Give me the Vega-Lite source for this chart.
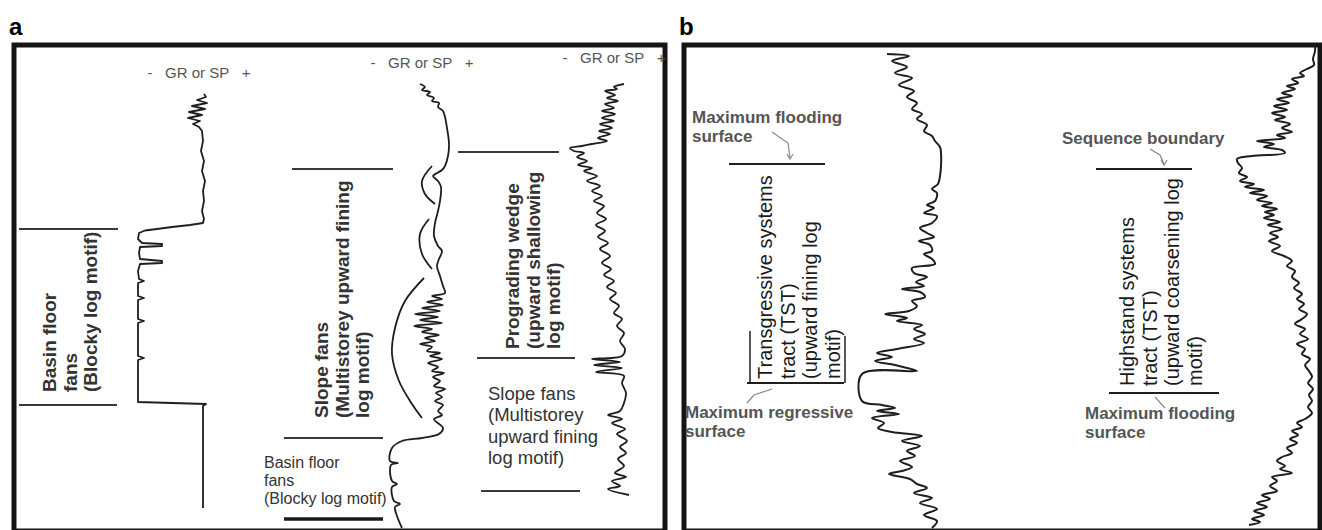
{
  "$schema": "https://vega.github.io/schema/vega-lite/v6.json",
  "autosize": {"type": "pad"},
  "padding": {"left": 6, "top": 13, "right": 0, "bottom": 0},
  "background": "white",
  "spacing": 19,
  "bounds": "flush",
  "config": {"view": {"stroke": "#151515", "strokeWidth": 5}},
  "datasets": {
    "logsA": [
      {"s":"a1","x":202,"y":93},{"s":"a1","x":204,"y":96},{"s":"a1","x":195,"y":99},{"s":"a1","x":205,"y":102},{"s":"a1","x":190,"y":105},{"s":"a1","x":203,"y":108},{"s":"a1","x":187,"y":111},{"s":"a1","x":200,"y":114},{"s":"a1","x":186,"y":117},{"s":"a1","x":198,"y":120},{"s":"a1","x":191,"y":123},{"s":"a1","x":197,"y":126},{"s":"a1","x":200,"y":130},{"s":"a1","x":201,"y":140},{"s":"a1","x":199,"y":150},{"s":"a1","x":202,"y":160},{"s":"a1","x":200,"y":170},{"s":"a1","x":203,"y":180},{"s":"a1","x":201,"y":190},{"s":"a1","x":202,"y":200},{"s":"a1","x":200,"y":210},{"s":"a1","x":202,"y":218},{"s":"a1","x":201,"y":222},{"s":"a1","x":188,"y":224},{"s":"a1","x":170,"y":226},{"s":"a1","x":155,"y":228},{"s":"a1","x":143,"y":229.5},{"s":"a1","x":137,"y":232},{"s":"a1","x":136,"y":238},{"s":"a1","x":140,"y":242},{"s":"a1","x":160,"y":243},{"s":"a1","x":160,"y":245},{"s":"a1","x":138,"y":246},{"s":"a1","x":137,"y":252},{"s":"a1","x":138,"y":258},{"s":"a1","x":160,"y":260},{"s":"a1","x":160,"y":262},{"s":"a1","x":138,"y":263},{"s":"a1","x":136,"y":270},{"s":"a1","x":137,"y":278},{"s":"a1","x":142,"y":280},{"s":"a1","x":136,"y":282},{"s":"a1","x":136,"y":295},{"s":"a1","x":142,"y":297},{"s":"a1","x":136,"y":299},{"s":"a1","x":136,"y":318},{"s":"a1","x":142,"y":320},{"s":"a1","x":136,"y":322},{"s":"a1","x":136,"y":355},{"s":"a1","x":142,"y":357},{"s":"a1","x":136,"y":359},{"s":"a1","x":136,"y":401},{"s":"a1","x":170,"y":402},{"s":"a1","x":204,"y":403},{"s":"a1","x":201,"y":405},{"s":"a1","x":201,"y":507},
      {"s":"a2","x":418,"y":83},{"s":"a2","x":423,"y":86},{"s":"a2","x":420,"y":89},{"s":"a2","x":428,"y":91},{"s":"a2","x":425,"y":94},{"s":"a2","x":432,"y":97},{"s":"a2","x":430,"y":100},{"s":"a2","x":437,"y":102},{"s":"a2","x":436,"y":106},{"s":"a2","x":441,"y":110},{"s":"a2","x":445,"y":127},{"s":"a2","x":447,"y":143},{"s":"a2","x":446,"y":155},{"s":"a2","x":443,"y":165},{"s":"a2","x":440,"y":169},{"s":"a2","x":435,"y":172},{"s":"a2","x":431,"y":175},{"s":"a2","x":436,"y":180},{"s":"a2","x":439,"y":186},{"s":"a2","x":438,"y":200},{"s":"a2","x":436,"y":210},{"s":"a2","x":433,"y":222},{"s":"a2","x":432,"y":235},{"s":"a2","x":436,"y":245},{"s":"a2","x":440,"y":250},{"s":"a2","x":437,"y":258},{"s":"a2","x":435,"y":265},{"s":"a2","x":438,"y":275},{"s":"a2","x":441,"y":285},{"s":"a2","x":443,"y":292},{"s":"a2","x":430,"y":295},{"s":"a2","x":440,"y":298},{"s":"a2","x":425,"y":301},{"s":"a2","x":441,"y":304},{"s":"a2","x":420,"y":307},{"s":"a2","x":438,"y":310},{"s":"a2","x":413,"y":313},{"s":"a2","x":436,"y":316},{"s":"a2","x":418,"y":319},{"s":"a2","x":440,"y":322},{"s":"a2","x":412,"y":325},{"s":"a2","x":430,"y":328},{"s":"a2","x":420,"y":331},{"s":"a2","x":437,"y":334},{"s":"a2","x":423,"y":337},{"s":"a2","x":433,"y":340},{"s":"a2","x":418,"y":343},{"s":"a2","x":430,"y":346},{"s":"a2","x":425,"y":350},{"s":"a2","x":438,"y":352},{"s":"a2","x":428,"y":355},{"s":"a2","x":440,"y":358},{"s":"a2","x":426,"y":362},{"s":"a2","x":436,"y":366},{"s":"a2","x":430,"y":370},{"s":"a2","x":442,"y":372},{"s":"a2","x":431,"y":376},{"s":"a2","x":438,"y":380},{"s":"a2","x":432,"y":385},{"s":"a2","x":443,"y":388},{"s":"a2","x":434,"y":392},{"s":"a2","x":440,"y":396},{"s":"a2","x":433,"y":400},{"s":"a2","x":441,"y":404},{"s":"a2","x":436,"y":410},{"s":"a2","x":440,"y":414},{"s":"a2","x":432,"y":418},{"s":"a2","x":441,"y":427},{"s":"a2","x":437,"y":433},{"s":"a2","x":420,"y":437},{"s":"a2","x":400,"y":440},{"s":"a2","x":390,"y":447},{"s":"a2","x":388,"y":460},{"s":"a2","x":396,"y":462},{"s":"a2","x":389,"y":464},{"s":"a2","x":390,"y":480},{"s":"a2","x":395,"y":483},{"s":"a2","x":390,"y":486},{"s":"a2","x":392,"y":500},{"s":"a2","x":398,"y":503},{"s":"a2","x":393,"y":506},{"s":"a2","x":395,"y":515},{"s":"a2","x":400,"y":527},
      {"s":"arc1","x":430,"y":165},{"s":"arc1","x":420,"y":180},{"s":"arc1","x":423,"y":193},{"s":"arc1","x":433,"y":203},
      {"s":"arc2","x":427,"y":218},{"s":"arc2","x":418,"y":233},{"s":"arc2","x":420,"y":253},{"s":"arc2","x":430,"y":268},
      {"s":"arc3","x":422,"y":277},{"s":"arc3","x":403,"y":300},{"s":"arc3","x":393,"y":327},{"s":"arc3","x":390,"y":353},{"s":"arc3","x":397,"y":380},{"s":"arc3","x":410,"y":403},{"s":"arc3","x":420,"y":417},
      {"s":"a3","x":622,"y":83},{"s":"a3","x":612,"y":86},{"s":"a3","x":615,"y":88},{"s":"a3","x":603,"y":90},{"s":"a3","x":613,"y":94},{"s":"a3","x":605,"y":97},{"s":"a3","x":616,"y":100},{"s":"a3","x":603,"y":103},{"s":"a3","x":612,"y":107},{"s":"a3","x":600,"y":110},{"s":"a3","x":613,"y":113},{"s":"a3","x":600,"y":117},{"s":"a3","x":612,"y":120},{"s":"a3","x":598,"y":123},{"s":"a3","x":610,"y":127},{"s":"a3","x":597,"y":130},{"s":"a3","x":608,"y":133},{"s":"a3","x":596,"y":137},{"s":"a3","x":605,"y":140},{"s":"a3","x":590,"y":143},{"s":"a3","x":580,"y":145},{"s":"a3","x":568,"y":147},{"s":"a3","x":572,"y":150},{"s":"a3","x":582,"y":152},{"s":"a3","x":575,"y":156},{"s":"a3","x":585,"y":160},{"s":"a3","x":576,"y":164},{"s":"a3","x":590,"y":167},{"s":"a3","x":582,"y":170},{"s":"a3","x":595,"y":175},{"s":"a3","x":585,"y":180},{"s":"a3","x":598,"y":185},{"s":"a3","x":590,"y":190},{"s":"a3","x":600,"y":195},{"s":"a3","x":592,"y":200},{"s":"a3","x":602,"y":205},{"s":"a3","x":595,"y":212},{"s":"a3","x":604,"y":218},{"s":"a3","x":594,"y":224},{"s":"a3","x":603,"y":230},{"s":"a3","x":596,"y":236},{"s":"a3","x":606,"y":242},{"s":"a3","x":598,"y":248},{"s":"a3","x":608,"y":255},{"s":"a3","x":600,"y":262},{"s":"a3","x":609,"y":268},{"s":"a3","x":602,"y":274},{"s":"a3","x":612,"y":280},{"s":"a3","x":605,"y":286},{"s":"a3","x":614,"y":292},{"s":"a3","x":608,"y":298},{"s":"a3","x":617,"y":305},{"s":"a3","x":612,"y":312},{"s":"a3","x":620,"y":318},{"s":"a3","x":615,"y":325},{"s":"a3","x":622,"y":332},{"s":"a3","x":618,"y":340},{"s":"a3","x":623,"y":348},{"s":"a3","x":620,"y":355},{"s":"a3","x":590,"y":358},{"s":"a3","x":618,"y":361},{"s":"a3","x":592,"y":364},{"s":"a3","x":620,"y":367},{"s":"a3","x":594,"y":371},{"s":"a3","x":622,"y":375},{"s":"a3","x":620,"y":382},{"s":"a3","x":624,"y":392},{"s":"a3","x":622,"y":402},{"s":"a3","x":618,"y":410},{"s":"a3","x":606,"y":414},{"s":"a3","x":620,"y":418},{"s":"a3","x":610,"y":422},{"s":"a3","x":623,"y":428},{"s":"a3","x":615,"y":433},{"s":"a3","x":625,"y":440},{"s":"a3","x":618,"y":446},{"s":"a3","x":624,"y":452},{"s":"a3","x":616,"y":458},{"s":"a3","x":622,"y":465},{"s":"a3","x":613,"y":472},{"s":"a3","x":624,"y":476},{"s":"a3","x":610,"y":480},{"s":"a3","x":618,"y":485},{"s":"a3","x":606,"y":488},{"s":"a3","x":627,"y":494}
    ],
    "rulesA": [
      {"x":17,"x2":116,"y":228,"k":"n"},
      {"x":17,"x2":115,"y":404,"k":"n"},
      {"x":290,"x2":391,"y":168,"k":"n"},
      {"x":282,"x2":381,"y":437,"k":"n"},
      {"x":456,"x2":557,"y":151,"k":"n"},
      {"x":475,"x2":573,"y":357,"k":"n"},
      {"x":479,"x2":578,"y":490,"k":"n"},
      {"x":282,"x2":381,"y":518,"k":"b"}
    ],
    "textA": [
      {"g":"p","t":"a","x":7,"y":15},
      {"g":"gr","t":"-\u00a0\u00a0\u00a0GR or SP\u00a0\u00a0\u00a0+","x":197,"y":72},
      {"g":"gr","t":"-\u00a0\u00a0\u00a0GR or SP\u00a0\u00a0\u00a0+","x":420,"y":62},
      {"g":"gr","t":"-\u00a0\u00a0\u00a0GR or SP\u00a0\u00a0\u00a0+","x":612,"y":57},
      {"g":"rot","t":"Basin floor\nfans\n(Blocky log motif)","x":48,"y":391},
      {"g":"rot","t":"Slope fans\n(Multistorey upward fining\nlog motif)","x":320,"y":417},
      {"g":"rot","t":"Prograding wedge\n(upward shallowing\nlog motif)","x":511,"y":348},
      {"g":"hs","t":"Basin floor\nfans\n(Blocky log motif)","x":262,"y":462},
      {"g":"hl","t":"Slope fans\n(Multistorey\nupward fining\nlog motif)","x":486,"y":393}
    ],
    "logsB": [
      {"s":"b1","x":885,"y":53},{"s":"b1","x":907,"y":55},{"s":"b1","x":890,"y":60},{"s":"b1","x":905,"y":66},{"s":"b1","x":893,"y":72},{"s":"b1","x":910,"y":77},{"s":"b1","x":897,"y":84},{"s":"b1","x":912,"y":90},{"s":"b1","x":905,"y":96},{"s":"b1","x":915,"y":102},{"s":"b1","x":910,"y":108},{"s":"b1","x":920,"y":113},{"s":"b1","x":915,"y":118},{"s":"b1","x":925,"y":124},{"s":"b1","x":922,"y":130},{"s":"b1","x":930,"y":135},{"s":"b1","x":933,"y":140},{"s":"b1","x":938,"y":146},{"s":"b1","x":939,"y":152},{"s":"b1","x":939,"y":165},{"s":"b1","x":938,"y":175},{"s":"b1","x":936,"y":183},{"s":"b1","x":930,"y":188},{"s":"b1","x":935,"y":192},{"s":"b1","x":933,"y":200},{"s":"b1","x":925,"y":204},{"s":"b1","x":932,"y":207},{"s":"b1","x":922,"y":212},{"s":"b1","x":935,"y":215},{"s":"b1","x":930,"y":222},{"s":"b1","x":918,"y":227},{"s":"b1","x":925,"y":232},{"s":"b1","x":932,"y":236},{"s":"b1","x":917,"y":240},{"s":"b1","x":928,"y":244},{"s":"b1","x":930,"y":250},{"s":"b1","x":922,"y":253},{"s":"b1","x":930,"y":258},{"s":"b1","x":933,"y":263},{"s":"b1","x":910,"y":267},{"s":"b1","x":912,"y":272},{"s":"b1","x":925,"y":276},{"s":"b1","x":914,"y":281},{"s":"b1","x":922,"y":285},{"s":"b1","x":900,"y":288},{"s":"b1","x":918,"y":291},{"s":"b1","x":923,"y":296},{"s":"b1","x":910,"y":300},{"s":"b1","x":915,"y":305},{"s":"b1","x":907,"y":310},{"s":"b1","x":883,"y":313},{"s":"b1","x":905,"y":317},{"s":"b1","x":895,"y":320},{"s":"b1","x":920,"y":324},{"s":"b1","x":912,"y":328},{"s":"b1","x":923,"y":333},{"s":"b1","x":912,"y":338},{"s":"b1","x":922,"y":342},{"s":"b1","x":895,"y":348},{"s":"b1","x":875,"y":352},{"s":"b1","x":890,"y":356},{"s":"b1","x":873,"y":360},{"s":"b1","x":893,"y":364},{"s":"b1","x":905,"y":367},{"s":"b1","x":915,"y":370},{"s":"b1","x":860,"y":373},{"s":"b1","x":860,"y":400},{"s":"b1","x":880,"y":404},{"s":"b1","x":893,"y":407},{"s":"b1","x":875,"y":410},{"s":"b1","x":897,"y":413},{"s":"b1","x":870,"y":417},{"s":"b1","x":882,"y":422},{"s":"b1","x":876,"y":427},{"s":"b1","x":890,"y":431},{"s":"b1","x":920,"y":435},{"s":"b1","x":900,"y":440},{"s":"b1","x":918,"y":445},{"s":"b1","x":905,"y":450},{"s":"b1","x":913,"y":455},{"s":"b1","x":898,"y":460},{"s":"b1","x":910,"y":466},{"s":"b1","x":900,"y":470},{"s":"b1","x":887,"y":473},{"s":"b1","x":908,"y":478},{"s":"b1","x":915,"y":483},{"s":"b1","x":925,"y":487},{"s":"b1","x":912,"y":492},{"s":"b1","x":930,"y":497},{"s":"b1","x":918,"y":502},{"s":"b1","x":935,"y":508},{"s":"b1","x":922,"y":514},{"s":"b1","x":935,"y":520},{"s":"b1","x":930,"y":527},
      {"s":"b2","x":1313,"y":43},{"s":"b2","x":1313,"y":50},{"s":"b2","x":1311,"y":58},{"s":"b2","x":1312,"y":64},{"s":"b2","x":1305,"y":68},{"s":"b2","x":1298,"y":72},{"s":"b2","x":1302,"y":75},{"s":"b2","x":1290,"y":78},{"s":"b2","x":1296,"y":82},{"s":"b2","x":1285,"y":85},{"s":"b2","x":1293,"y":88},{"s":"b2","x":1280,"y":92},{"s":"b2","x":1290,"y":95},{"s":"b2","x":1275,"y":98},{"s":"b2","x":1287,"y":102},{"s":"b2","x":1272,"y":105},{"s":"b2","x":1285,"y":109},{"s":"b2","x":1270,"y":112},{"s":"b2","x":1283,"y":116},{"s":"b2","x":1273,"y":119},{"s":"b2","x":1288,"y":123},{"s":"b2","x":1280,"y":127},{"s":"b2","x":1290,"y":131},{"s":"b2","x":1275,"y":134},{"s":"b2","x":1283,"y":137},{"s":"b2","x":1255,"y":140},{"s":"b2","x":1272,"y":143},{"s":"b2","x":1262,"y":146},{"s":"b2","x":1280,"y":149},{"s":"b2","x":1283,"y":152},{"s":"b2","x":1250,"y":155},{"s":"b2","x":1235,"y":158},{"s":"b2","x":1236,"y":162},{"s":"b2","x":1240,"y":167},{"s":"b2","x":1237,"y":172},{"s":"b2","x":1245,"y":176},{"s":"b2","x":1238,"y":180},{"s":"b2","x":1252,"y":183},{"s":"b2","x":1243,"y":186},{"s":"b2","x":1262,"y":189},{"s":"b2","x":1248,"y":192},{"s":"b2","x":1265,"y":195},{"s":"b2","x":1255,"y":199},{"s":"b2","x":1270,"y":202},{"s":"b2","x":1260,"y":205},{"s":"b2","x":1275,"y":208},{"s":"b2","x":1263,"y":211},{"s":"b2","x":1272,"y":214},{"s":"b2","x":1262,"y":217},{"s":"b2","x":1278,"y":221},{"s":"b2","x":1266,"y":224},{"s":"b2","x":1280,"y":228},{"s":"b2","x":1268,"y":232},{"s":"b2","x":1276,"y":236},{"s":"b2","x":1267,"y":240},{"s":"b2","x":1278,"y":245},{"s":"b2","x":1270,"y":250},{"s":"b2","x":1282,"y":255},{"s":"b2","x":1290,"y":260},{"s":"b2","x":1285,"y":265},{"s":"b2","x":1293,"y":270},{"s":"b2","x":1290,"y":276},{"s":"b2","x":1297,"y":282},{"s":"b2","x":1292,"y":287},{"s":"b2","x":1300,"y":293},{"s":"b2","x":1295,"y":298},{"s":"b2","x":1302,"y":303},{"s":"b2","x":1297,"y":308},{"s":"b2","x":1305,"y":313},{"s":"b2","x":1300,"y":318},{"s":"b2","x":1293,"y":323},{"s":"b2","x":1303,"y":328},{"s":"b2","x":1298,"y":333},{"s":"b2","x":1306,"y":338},{"s":"b2","x":1295,"y":343},{"s":"b2","x":1303,"y":348},{"s":"b2","x":1300,"y":353},{"s":"b2","x":1308,"y":358},{"s":"b2","x":1303,"y":364},{"s":"b2","x":1307,"y":370},{"s":"b2","x":1310,"y":376},{"s":"b2","x":1306,"y":382},{"s":"b2","x":1311,"y":388},{"s":"b2","x":1307,"y":394},{"s":"b2","x":1310,"y":400},{"s":"b2","x":1306,"y":406},{"s":"b2","x":1310,"y":412},{"s":"b2","x":1303,"y":418},{"s":"b2","x":1295,"y":422},{"s":"b2","x":1300,"y":426},{"s":"b2","x":1290,"y":430},{"s":"b2","x":1296,"y":434},{"s":"b2","x":1288,"y":438},{"s":"b2","x":1295,"y":442},{"s":"b2","x":1285,"y":447},{"s":"b2","x":1290,"y":452},{"s":"b2","x":1280,"y":456},{"s":"b2","x":1275,"y":460},{"s":"b2","x":1283,"y":465},{"s":"b2","x":1278,"y":468},{"s":"b2","x":1290,"y":472},{"s":"b2","x":1270,"y":476},{"s":"b2","x":1275,"y":480},{"s":"b2","x":1268,"y":485},{"s":"b2","x":1275,"y":490},{"s":"b2","x":1260,"y":494},{"s":"b2","x":1268,"y":498},{"s":"b2","x":1255,"y":502},{"s":"b2","x":1265,"y":506},{"s":"b2","x":1252,"y":510},{"s":"b2","x":1262,"y":514},{"s":"b2","x":1250,"y":518},{"s":"b2","x":1258,"y":521},{"s":"b2","x":1247,"y":524}
    ],
    "rulesB": [
      {"x":727,"x2":823,"y":163},
      {"x":745,"x2":842,"y":382},
      {"x":1094,"x2":1190,"y":168},
      {"x":1107,"x2":1217,"y":392}
    ],
    "vbarsB": [
      {"x":748,"y":330,"y2":382},
      {"x":843,"y":335,"y2":382}
    ],
    "arrowsB": [
      {"s":"m1","i":0,"x":770,"y":131},{"s":"m1","i":1,"x":786,"y":142},{"s":"m1","i":2,"x":788,"y":157},
      {"s":"h1","i":0,"x":785,"y":153},{"s":"h1","i":1,"x":788,"y":158},{"s":"h1","i":2,"x":791,"y":153},
      {"s":"m2","i":0,"x":770,"y":388},{"s":"m2","i":1,"x":752,"y":394},{"s":"m2","i":2,"x":745,"y":402},
      {"s":"m3","i":0,"x":1148,"y":148},{"s":"m3","i":1,"x":1158,"y":154},{"s":"m3","i":2,"x":1162,"y":163},
      {"s":"h3","i":0,"x":1159,"y":159},{"s":"h3","i":1,"x":1162,"y":164},{"s":"h3","i":2,"x":1165,"y":159},
      {"s":"m4","i":0,"x":1153,"y":396},{"s":"m4","i":1,"x":1163,"y":407}
    ],
    "textB": [
      {"g":"p","t":"b","x":677,"y":15},
      {"g":"gb","t":"Maximum flooding\nsurface","x":690,"y":117},
      {"g":"gb","t":"Maximum regressive\nsurface","x":683,"y":412},
      {"g":"gb","t":"Sequence boundary","x":1060,"y":138},
      {"g":"gb","t":"Maximum flooding\nsurface","x":1083,"y":413},
      {"g":"rot","t":"Transgressive systems\ntract (TST)\n(upward fining log\nmotif)","x":764,"y":378},
      {"g":"rot","t":"Highstand systems\ntract (TST)\n(upward coarsening log\nmotif)","x":1126,"y":385}
    ]
  },
  "hconcat": [
    {
      "width": 651,
      "height": 486,
      "encoding": {
        "x": {"field": "x", "type": "quantitative", "scale": {"domain": [12, 663], "nice": false, "zero": false}, "axis": null},
        "y": {"field": "y", "type": "quantitative", "scale": {"domain": [44, 530], "nice": false, "zero": false, "reverse": true}, "axis": null}
      },
      "layer": [
        {"data": {"name": "rulesA"}, "transform": [{"filter": "datum.k == 'n'"}], "mark": {"type": "rule", "color": "#3a3a3a", "strokeWidth": 2}, "encoding": {"x2": {"field": "x2"}}},
        {"data": {"name": "rulesA"}, "transform": [{"filter": "datum.k == 'b'"}], "mark": {"type": "rule", "color": "#1a1a1a", "strokeWidth": 3.5}, "encoding": {"x2": {"field": "x2"}}},
        {"data": {"name": "logsA"}, "transform": [{"filter": "datum.s == 'a1'"}], "mark": {"type": "line", "color": "#1e1e1e", "strokeWidth": 1.8, "strokeJoin": "round"}, "encoding": {"detail": {"field": "s"}, "order": {"field": "y", "type": "quantitative"}}},
        {"data": {"name": "logsA"}, "transform": [{"filter": "datum.s != 'a1'"}], "mark": {"type": "line", "color": "#1e1e1e", "strokeWidth": 1.8, "strokeJoin": "round", "interpolate": "catmull-rom"}, "encoding": {"detail": {"field": "s"}, "order": {"field": "y", "type": "quantitative"}}},
        {"data": {"name": "textA"}, "transform": [{"filter": "datum.g == 'p'"}], "mark": {"type": "text", "align": "left", "baseline": "top", "font": "Liberation Sans", "fontSize": 24, "fontWeight": "bold", "fill": "#000"}, "encoding": {"text": {"field": "t"}}},
        {"data": {"name": "textA"}, "transform": [{"filter": "datum.g == 'gr'"}], "mark": {"type": "text", "align": "center", "baseline": "middle", "font": "Liberation Sans", "fontSize": 15, "fill": "#555"}, "encoding": {"text": {"field": "t"}}},
        {"data": {"name": "textA"}, "transform": [{"filter": "datum.g == 'rot'"}], "mark": {"type": "text", "angle": 270, "align": "left", "baseline": "middle", "lineBreak": "\n", "lineHeight": 20.5, "font": "Liberation Sans", "fontSize": 19, "fontWeight": "bold", "fill": "#333"}, "encoding": {"text": {"field": "t"}}},
        {"data": {"name": "textA"}, "transform": [{"filter": "datum.g == 'hs'"}], "mark": {"type": "text", "align": "left", "baseline": "middle", "lineBreak": "\n", "lineHeight": 18, "font": "Liberation Sans", "fontSize": 16, "fill": "#333"}, "encoding": {"text": {"field": "t"}}},
        {"data": {"name": "textA"}, "transform": [{"filter": "datum.g == 'hl'"}], "mark": {"type": "text", "align": "left", "baseline": "middle", "lineBreak": "\n", "lineHeight": 21.3, "font": "Liberation Sans", "fontSize": 18.5, "fill": "#333"}, "encoding": {"text": {"field": "t"}}}
      ]
    },
    {
      "width": 636,
      "height": 486,
      "encoding": {
        "x": {"field": "x", "type": "quantitative", "scale": {"domain": [682, 1318], "nice": false, "zero": false}, "axis": null},
        "y": {"field": "y", "type": "quantitative", "scale": {"domain": [44, 530], "nice": false, "zero": false, "reverse": true}, "axis": null}
      },
      "layer": [
        {"data": {"name": "rulesB"}, "mark": {"type": "rule", "color": "#1e1e1e", "strokeWidth": 2}, "encoding": {"x2": {"field": "x2"}}},
        {"data": {"name": "vbarsB"}, "mark": {"type": "rule", "color": "#1e1e1e", "strokeWidth": 1.5}, "encoding": {"y2": {"field": "y2"}}},
        {"data": {"name": "arrowsB"}, "mark": {"type": "line", "color": "#888", "strokeWidth": 1.2}, "encoding": {"detail": {"field": "s"}, "order": {"field": "i", "type": "quantitative"}}},
        {"data": {"name": "logsB"}, "mark": {"type": "line", "color": "#1e1e1e", "strokeWidth": 2, "strokeJoin": "round", "interpolate": "catmull-rom"}, "encoding": {"detail": {"field": "s"}, "order": {"field": "y", "type": "quantitative"}}},
        {"data": {"name": "textB"}, "transform": [{"filter": "datum.g == 'p'"}], "mark": {"type": "text", "align": "left", "baseline": "top", "font": "Liberation Sans", "fontSize": 24, "fontWeight": "bold", "fill": "#000"}, "encoding": {"text": {"field": "t"}}},
        {"data": {"name": "textB"}, "transform": [{"filter": "datum.g == 'gb'"}], "mark": {"type": "text", "align": "left", "baseline": "middle", "lineBreak": "\n", "lineHeight": 19, "font": "Liberation Sans", "fontSize": 17, "fontWeight": "bold", "fill": "#555"}, "encoding": {"text": {"field": "t"}}},
        {"data": {"name": "textB"}, "transform": [{"filter": "datum.g == 'rot'"}], "mark": {"type": "text", "angle": 270, "align": "left", "baseline": "middle", "lineBreak": "\n", "lineHeight": 22.6, "font": "Liberation Sans", "fontSize": 20, "fill": "#1a1a1a"}, "encoding": {"text": {"field": "t"}}}
      ]
    }
  ]
}
